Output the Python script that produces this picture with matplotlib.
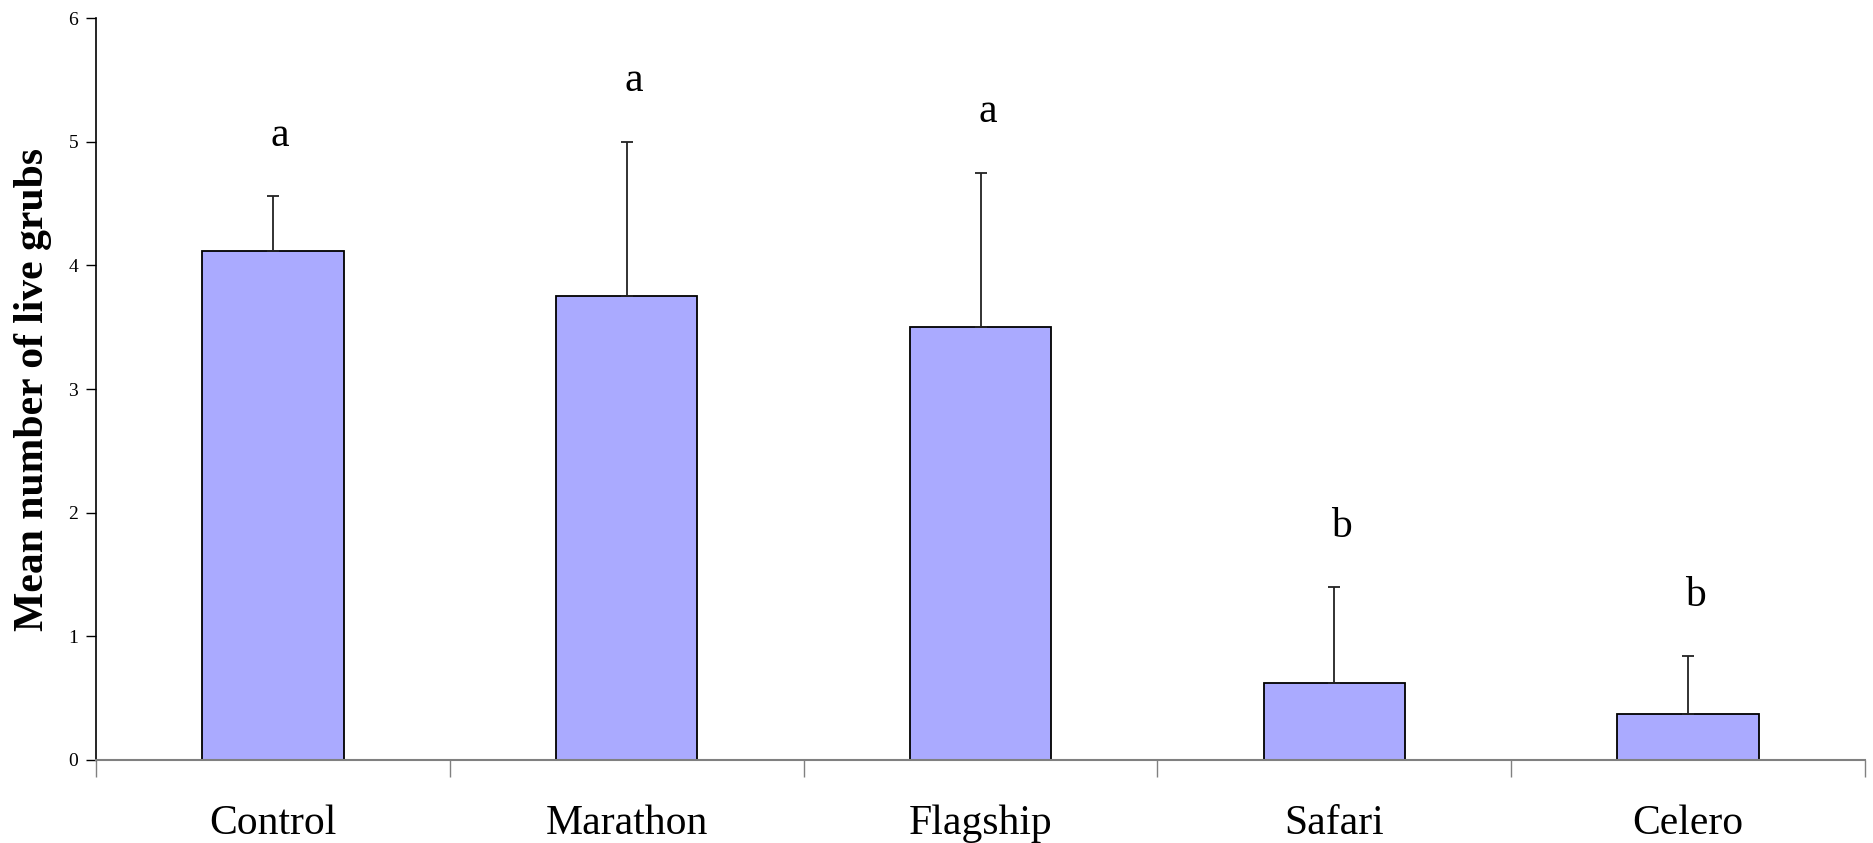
import numpy as np
import matplotlib
matplotlib.use("Agg")
import matplotlib.pyplot as plt

# treatments and their means
treatments = ["Control", "Marathon", "Flagship", "Safari", "Celero"]
means = [4.12, 3.75, 3.50, 0.62, 0.37]
errs = [0.44, 1.25, 1.25, 0.78, 0.47]   # upper error bar only
letters = ["a", "a", "a", "b", "b"]

plt.rcParams['font.family'] = ['Liberation Serif', 'DejaVu Serif']

fig = plt.figure(figsize=(18.73, 8.43), dpi=100)
ax = fig.add_axes([0.0513, 0.0985, 0.9444, 0.880])

x = np.arange(len(treatments)) + 0.5
ax.bar(x, means, width=0.40, color='#aaaaff', edgecolor='black', linewidth=1.3, zorder=2)
ax.errorbar(x, means, yerr=[np.zeros(len(errs)), errs], fmt='none',
            ecolor='#222222', elinewidth=1.3, capsize=4.5, capthick=1.3, zorder=3)

# significance letters above the error bars
for xi, m, e, lab in zip(x, means, errs, letters):
    ax.text(xi + 0.02, m + e + 0.49, lab, ha='center', va='center', fontsize=30)

ax.set_xlim(0, len(treatments))
ax.set_ylim(0, 6)
ax.set_yticks(range(0, 7))
ax.tick_params(axis='y', direction='out', length=7, width=1, labelsize=14, pad=6)

# ticks between categories, labels at the centres
ax.set_xticks(np.arange(len(treatments) + 1))
ax.set_xticklabels([])
ax.set_xticks(x, minor=True)
ax.set_xticklabels(treatments, minor=True, fontsize=30)
ax.tick_params(axis='x', which='major', direction='out', length=12, width=1, color='#808080')
ax.tick_params(axis='x', which='minor', length=0, pad=32)

ax.spines['top'].set_visible(False)
ax.spines['right'].set_visible(False)
ax.spines['bottom'].set_color('#808080')
ax.spines['bottom'].set_linewidth(1.5)
ax.spines['left'].set_linewidth(1.2)

ax.set_ylabel('Mean number of live grubs', fontsize=30, fontweight='bold')
ax.yaxis.set_label_coords(-0.025, 0.5)

fig.savefig('out.png', dpi=100)
